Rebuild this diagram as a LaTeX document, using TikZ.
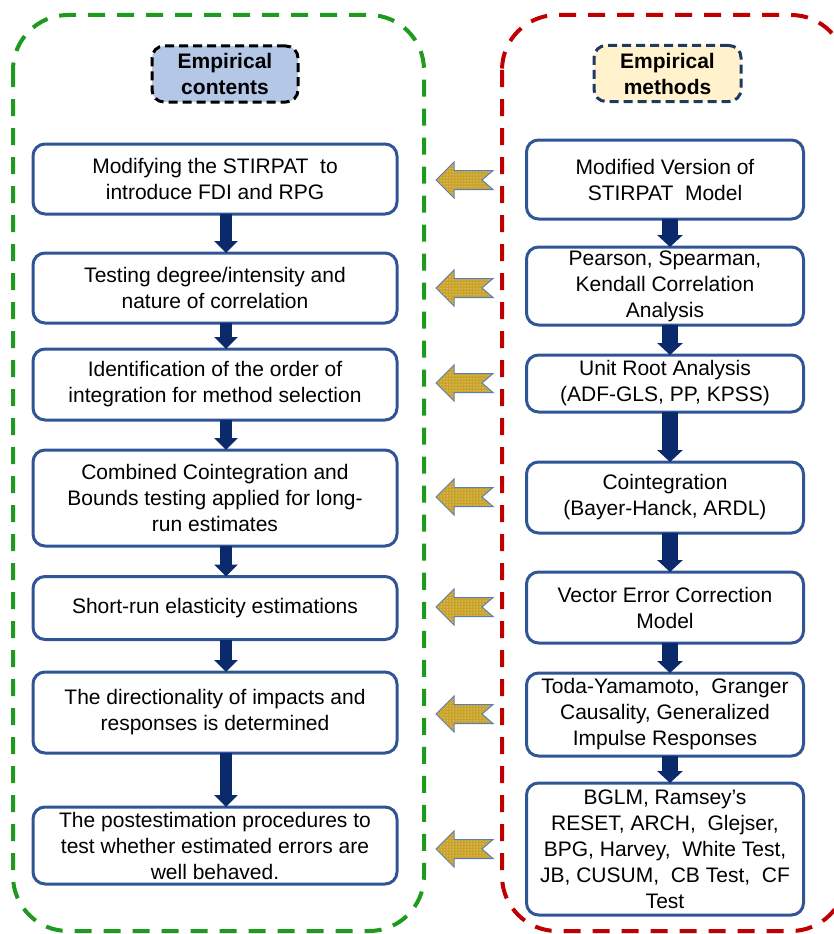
\documentclass[tikz,border=0pt]{standalone}
\usepackage{fontspec}
\setmainfont{Liberation Sans}
\usetikzlibrary{arrows.meta,patterns,calc}
\definecolor{boxblue}{HTML}{2F5597}
\definecolor{navy}{HTML}{0B2A6B}
\definecolor{cgreen}{HTML}{1E9B1E}
\definecolor{cred}{HTML}{C00000}
\definecolor{hdrblue}{HTML}{B4C7E7}
\definecolor{hdrcream}{HTML}{FFF2CC}
\definecolor{hdrnavy}{HTML}{1F3864}
\definecolor{gold}{HTML}{C9A227}
\definecolor{arrowborder}{HTML}{5A7EBA}
\tikzset{
  stepbox/.style={draw=boxblue, line width=3pt, rounded corners=12pt, fill=white,
    align=center, inner sep=0pt, font=\fontsize{21}{26}\selectfont},
  leftbox/.style={stepbox, minimum width=364pt},
  rightbox/.style={stepbox, minimum width=277pt},
  hdrbox/.style={line width=3pt, dash pattern=on 9pt off 5pt, rounded corners=12pt,
    align=center, inner sep=0pt, minimum width=146pt, minimum height=56pt,
    font=\fontsize{21}{26}\selectfont\bfseries},
  container/.style={line width=4pt, dash pattern=on 17pt off 12pt, rounded corners=55pt},
  downarrowL/.style={navy, line width=12pt, -{Triangle[width=23pt,length=12pt]}},
  downarrowR/.style={navy, line width=16pt, -{Triangle[width=25pt,length=12pt]}},
  fatarrow/.pic={
    \path[preaction={fill=gold}, pattern=dots, pattern color=white,
      draw=arrowborder, line width=1pt, line join=miter]
      (-28.5,0) -- (-10.5,-18) -- (-10.5,-9.5) -- (28.5,-9.5) -- (17.5,0)
      -- (28.5,9.5) -- (-10.5,9.5) -- (-10.5,18) -- cycle;
  }
}
\begin{document}
\begin{tikzpicture}[x=1pt,y=-1pt]
\useasboundingbox (0,0) rectangle (834,934);
\clip (0,0) rectangle (834,934);

% containers
\draw[container, draw=cgreen] (13,15) rectangle (424,931);
\draw[container, draw=cred] (502,15) rectangle (846,931);

% headers
\node[hdrbox, draw=black, fill=hdrblue] (H1) at (225,74) {Empirical\\contents};
\node[hdrbox, draw=hdrnavy, fill=hdrcream, minimum width=147pt] (H2) at (667.5,73.5) {Empirical\\methods};

% left column
\node[leftbox, minimum height=70pt] (L1) at (215,179) {Modifying the STIRPAT\ \ to\\introduce FDI and RPG};
\node[leftbox, minimum height=70pt] (L2) at (215,288) {Testing degree/intensity and\\nature of correlation};
\node[leftbox, minimum height=71pt] (L3) at (215,384.5) {Identification of the order of\\integration for method selection};
\node[leftbox, minimum height=96pt] (L4) at (215,498) {Combined Cointegration and\\Bounds testing applied for long-\\run estimates};
\node[leftbox, minimum height=63pt] (L5) at (215,608) {Short-run elasticity estimations};
\node[leftbox, minimum height=81pt] (L6) at (215,712.5) {The directionality of impacts and\\responses is determined};
\node[leftbox, minimum height=77pt] (L7) at (215,845.5) {The postestimation procedures to\\test whether estimated errors are\\well behaved.};

% right column
\node[rightbox, minimum height=79pt] (R1) at (665,179.5) {Modified Version of\\STIRPAT\ \ Model};
\node[rightbox, minimum height=78pt] (R2) at (665,286) {Pearson, Spearman,\\Kendall Correlation\\Analysis};
\node[rightbox, minimum height=57pt] (R3) at (665,383.5) {Unit Root Analysis\\(ADF-GLS, PP, KPSS)};
\node[rightbox, minimum height=71pt] (R4) at (665,497.5) {Cointegration\\(Bayer-Hanck, ARDL)};
\node[rightbox, minimum height=71pt] (R5) at (665,607.5) {Vector Error Correction\\Model};
\node[rightbox, minimum height=83pt] (R6) at (665,714.5) {Toda-Yamamoto,\ \ Granger\\Causality, Generalized\\Impulse Responses};
\node[rightbox, minimum height=132pt] (R7) at (665,849) {BGLM, Ramsey's\\RESET, ARCH,\ \ Glejser,\\BPG, Harvey,\ \ White Test,\\JB, CUSUM,\ \ CB Test,\ \ CF\\Test};

% down arrows left
\foreach \a/\b in {L1/L2,L2/L3,L3/L4,L4/L5,L5/L6,L6/L7}
  \draw[downarrowL] ([xshift=11pt,yshift=1.5pt]\a.south) -- ([xshift=11pt,yshift=-1.5pt]\b.north);
% down arrows right
\foreach \a/\b in {R1/R2,R2/R3,R3/R4,R4/R5,R5/R6,R6/R7}
  \draw[downarrowR] ([xshift=5pt,yshift=1.5pt]\a.south) -- ([xshift=5pt,yshift=-1.5pt]\b.north);

% gold arrows from methods to contents
\pic at (464.5,180) {fatarrow};
\pic at (464.5,288) {fatarrow};
\pic at (464.5,383) {fatarrow};
\pic at (464.5,497) {fatarrow};
\pic at (464.5,607) {fatarrow};
\pic at (464.5,714) {fatarrow};
\pic at (464.5,849) {fatarrow};
\end{tikzpicture}
\end{document}
